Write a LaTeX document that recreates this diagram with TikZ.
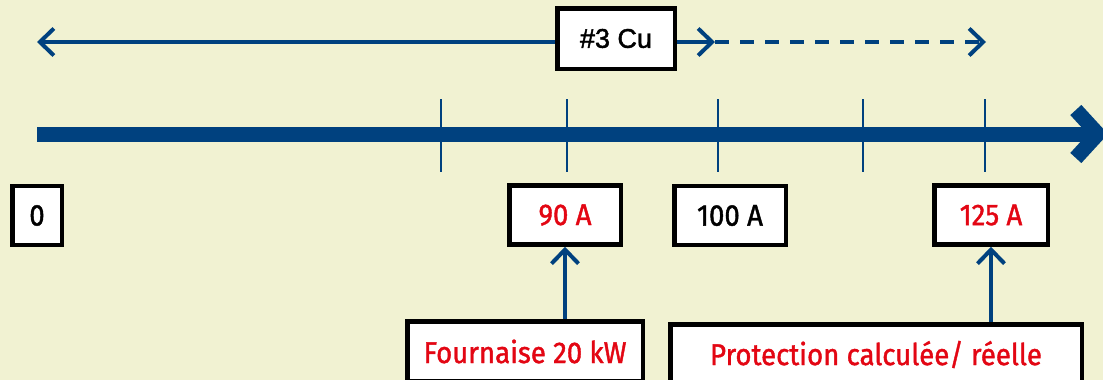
\documentclass[tikz,border=0pt]{standalone}
\usepackage{fontspec}
\setmainfont{Fira Sans}[FakeBold=1.3, FakeStretch=0.92]
\newfontfamily\cufont{Liberation Sans}[FakeBold=1.6]
\usetikzlibrary{arrows.meta}
\definecolor{bgc}{HTML}{F1F2D2}
\definecolor{navy}{HTML}{00417F}
\definecolor{redt}{HTML}{E30613}
\tikzset{
  chev/.tip={Straight Barb[length=14pt, width=27pt]},
  bigchev/.tip={Straight Barb[length=22pt, width=48pt]}
}
\begin{document}
\begin{tikzpicture}[x=1pt,y=-1pt,
  boxbase/.style={draw=black, fill=white, line width=4.5pt, inner sep=0pt, font=\fontsize{30}{33}\selectfont},
  valbox/.style={boxbase, minimum height=59pt},
  notebox/.style={boxbase, minimum height=60pt, text=redt},
  thinarrow/.style={draw=navy, line width=4pt},
  tickline/.style={draw=navy, line width=2.5pt},
  axisline/.style={draw=navy, line width=15pt, -{bigchev}},
  dashline/.style={thinarrow, dash pattern=on 14pt off 11pt}
]
\fill[bgc] (0,0) rectangle (1103,380);
\useasboundingbox (0,0) rectangle (1103,380);
\clip (0,0) rectangle (1103,380);

% top bracket
\node[boxbase, minimum width=117.5pt, minimum height=60.5pt, font=\cufont\fontsize{27}{30}\selectfont] (cu) at (616,38.5) {\#3 Cu};
\coordinate (lt) at (37,42);
\coordinate (mid) at (715,42);
\coordinate (rt) at (986,42);
\draw[thinarrow, {chev}-] (lt) -- (lt -| cu.west);
\draw[thinarrow, -{chev}] (mid -| cu.east) -- (mid);
\draw[dashline, -{chev}] (mid) -- (rt);

% axis
\coordinate (a0) at (37,134);
\coordinate (a1) at (1108,134);
\draw[axisline] (a0) -- (a1);
\foreach \t/\x in {t1/441,t2/567,t3/718,t4/863,t5/985}{
  \coordinate (\t a) at (\x,99);
  \coordinate (\t b) at (\x,172);
  \draw[tickline] (\t a) -- (\t b);
}

% value boxes
\node[valbox, minimum width=49.5pt] (v0) at (37,215.5) {0};
\node[valbox, minimum width=111.5pt, text=redt] (v90) at (565,215) {90 A};
\node[valbox, minimum width=111.5pt] (v100) at (730,215.5) {100 A};
\node[valbox, minimum width=113.5pt, text=redt] (v125) at (991,215) {125 A};

% note boxes
\node[notebox, minimum width=235.5pt] (four) at (525,351.5) {Fournaise 20 kW};
\node[notebox, minimum width=411.5pt] (prot) at (876,354.5) {Protection calculée/ réelle};

\draw[thinarrow, -{chev}] (four.north -| v90) -- (v90.south);
\draw[thinarrow, -{chev}] (prot.north -| v125) -- (v125.south);
\end{tikzpicture}
\end{document}
